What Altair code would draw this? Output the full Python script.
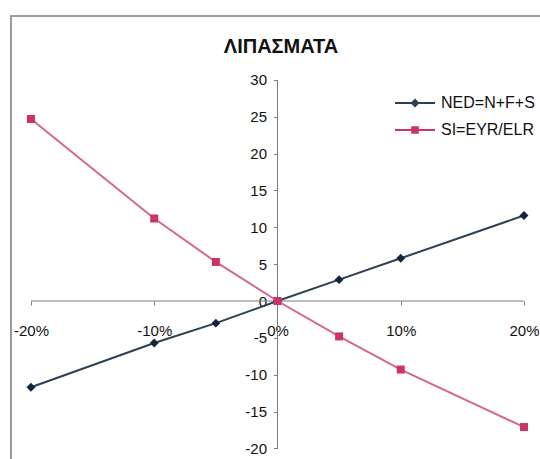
import altair as alt
import pandas as pd

# Sensitivity of the two indices to a change in fertiliser input
change = [-0.20, -0.10, -0.05, 0.0, 0.05, 0.10, 0.20]
ned = [-11.7, -5.7, -3.0, 0.0, 2.9, 5.8, 11.6]
si = [24.7, 11.2, 5.3, 0.0, -4.8, -9.3, -17.1]
series = ["NED=N+F+S", "SI=EYR/ELR"]

x_ticks = [-0.2, -0.1, 0.0, 0.1, 0.2]
y_ticks = list(range(-20, 31, 5))

line_colors = ["#2e4057", "#d9668a"]
marker_colors = ["#15233b", "#cc3366"]

FONT = "Liberation Sans"

df = pd.DataFrame({
    "change": change * 2,
    "value": ned + si,
    "series": [series[0]] * len(change) + [series[1]] * len(change),
})

# axis lines crossing at the origin, spanning the tick range only
x_line = pd.DataFrame({"x": [x_ticks[0]], "x2": [x_ticks[-1]], "y": [0]})
y_line = pd.DataFrame({"x": [0], "y": [y_ticks[0]], "y2": [y_ticks[-1]]})

x_scale = alt.Scale(domain=[-0.2162, 0.2138], nice=False, zero=False)
y_scale = alt.Scale(domain=[-21.57, 38.67], nice=False, zero=False)

hyphen = "replace(datum.label, '\u2212', '-')"

x_axis = alt.Axis(
    values=x_ticks, format=".0%", orient="bottom", offset=-159,
    domain=False, grid=False, tickSize=4, tickColor="#808080",
    labelPadding=18, labelFontSize=15, labelFont=FONT, labelColor="#111111",
    labelFlush=False, labelOverlap=False, title=None, labelExpr=hyphen,
)
y_axis = alt.Axis(
    values=y_ticks, orient="left", offset=-266.5,
    domain=False, grid=False, tickSize=4, tickColor="#808080",
    labelPadding=7, labelFontSize=15, labelFont=FONT, labelColor="#111111",
    labelOverlap=False, title=None, labelExpr=hyphen,
)

# legend symbol: a short bar (the line) with the series marker on it
first = f"datum.value == '{series[0]}'"
shape_expr = (
    f"{first} ? "
    "'M-2,-0.1H2V0.1H-2ZM0,-0.45L0.45,0L0,0.45L-0.45,0Z' : "
    "'M-2,-0.1H2V0.1H-2ZM-0.38,-0.38H0.38V0.38H-0.38Z'"
)
fill_expr = f"{first} ? '{line_colors[0]}' : '{marker_colors[1]}'"

legend = alt.Legend(
    orient="none", legendX=394, legendY=77, title=None,
    symbolSize=400, symbolStrokeWidth=0, labelOffset=16, rowPadding=9,
    symbolType=alt.ExprRef(expr=shape_expr),
    symbolFillColor=alt.ExprRef(expr=fill_expr),
    symbolOpacity=1,
    labelFont=FONT, labelFontSize=16, labelColor="#111111",
)

x_rule = alt.Chart(x_line).mark_rule(color="#7a7a7a", strokeWidth=1).encode(
    x=alt.X("x:Q", scale=x_scale, axis=x_axis), x2="x2:Q",
    y=alt.Y("y:Q", scale=y_scale, axis=y_axis),
)
y_rule = alt.Chart(y_line).mark_rule(color="#7a7a7a", strokeWidth=1).encode(
    x=alt.X("x:Q", scale=x_scale), y=alt.Y("y:Q", scale=y_scale), y2="y2:Q"
)

base = alt.Chart(df).encode(
    x=alt.X("change:Q", scale=x_scale),
    y=alt.Y("value:Q", scale=y_scale),
)

lines = base.mark_line(strokeWidth=2).encode(
    color=alt.Color("series:N", scale=alt.Scale(domain=series, range=line_colors), legend=legend),
    detail="series:N",
)

ned_points = base.transform_filter(alt.datum.series == series[0]).mark_point(
    shape="diamond", filled=True, opacity=1, size=80, color=marker_colors[0]
)
si_points = base.transform_filter(alt.datum.series == series[1]).mark_point(
    shape="square", filled=True, opacity=1, size=64, color=marker_colors[1]
)

chart = alt.layer(x_rule, y_rule, lines, ned_points, si_points).properties(
    width=530,
    height=444,
    padding={"left": 11, "top": 16, "right": -1, "bottom": -1},
    autosize="none",
    background="white",
    title=alt.TitleParams(
        text="ΛΙΠΑΣΜΑΤΑ", font=FONT, fontSize=20, fontWeight="bold",
        color="#111111", anchor="middle", baseline="alphabetic",
        offset=0, dx=5, dy=57,
    ),
).configure_view(stroke="#9b9b9b", strokeWidth=2)

chart.save("out.html", embed_options={"renderer": "svg", "actions": False})
